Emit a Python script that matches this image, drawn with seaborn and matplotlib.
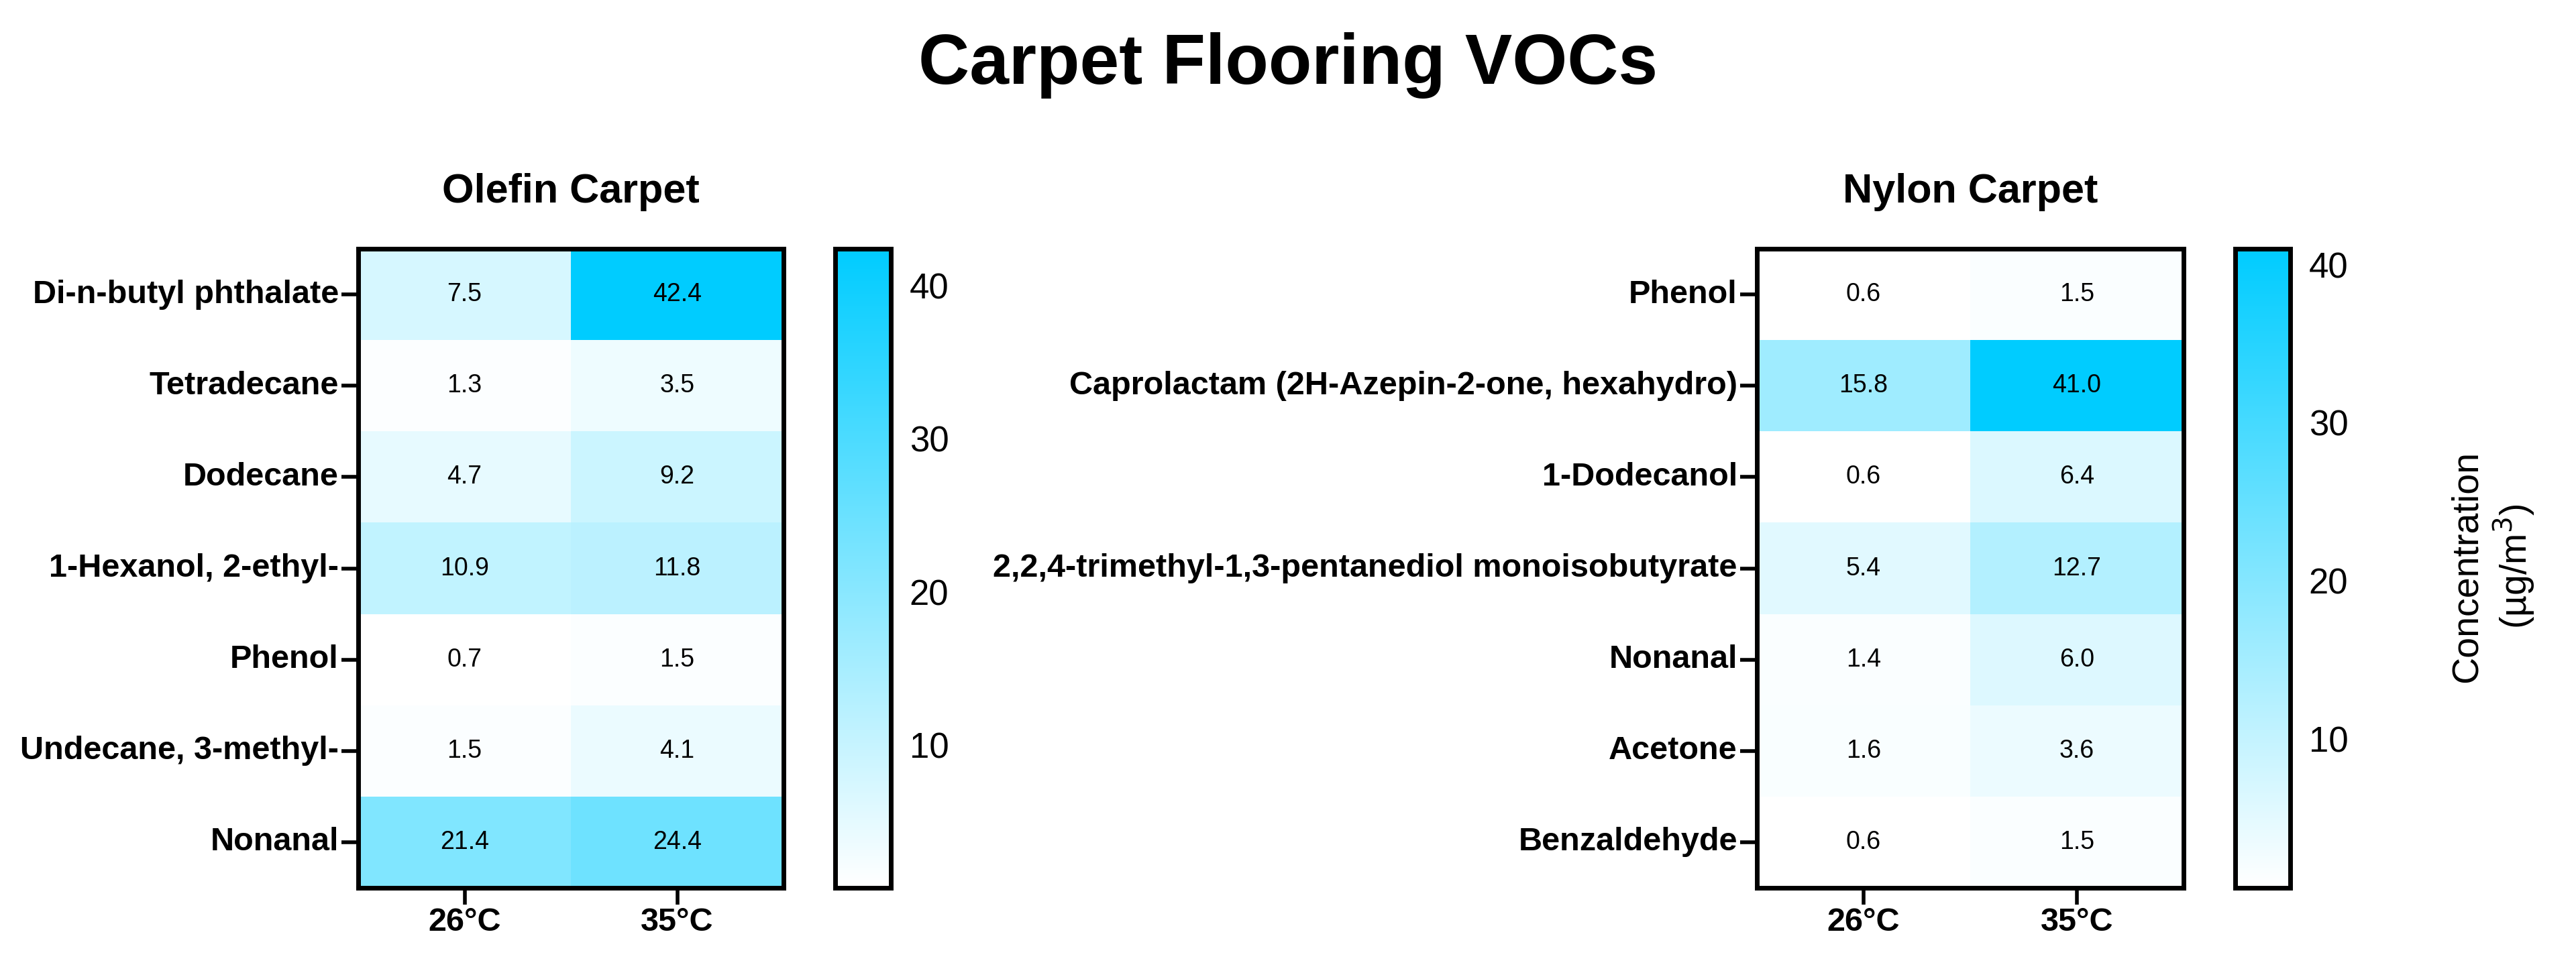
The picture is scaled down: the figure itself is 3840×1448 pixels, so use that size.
import pandas as pd
import matplotlib
matplotlib.use("Agg")
import matplotlib.pyplot as plt
from matplotlib.colors import LinearSegmentedColormap
import seaborn as sns

sns.set_style("white")
plt.rcParams['font.family'] = ['Liberation Sans', 'DejaVu Sans']
plt.rcParams['text.color'] = 'black'
plt.rcParams['xtick.color'] = 'black'
plt.rcParams['ytick.color'] = 'black'
plt.rcParams['axes.labelcolor'] = 'black'

temps = ['26°C', '35°C']

olefin_compounds = ['Di-n-butyl phthalate', 'Tetradecane', 'Dodecane', '1-Hexanol, 2-ethyl-',
                    'Phenol', 'Undecane, 3-methyl-', 'Nonanal']
olefin_26 = [7.5, 1.3, 4.7, 10.9, 0.7, 1.5, 21.4]
olefin_35 = [42.4, 3.5, 9.2, 11.8, 1.5, 4.1, 24.4]

nylon_compounds = ['Phenol', 'Caprolactam (2H-Azepin-2-one, hexahydro)', '1-Dodecanol',
                   '2,2,4-trimethyl-1,3-pentanediol monoisobutyrate', 'Nonanal', 'Acetone',
                   'Benzaldehyde']
nylon_26 = [0.6, 15.8, 0.6, 5.4, 1.4, 1.6, 0.6]
nylon_35 = [1.5, 41.0, 6.4, 12.7, 6.0, 3.6, 1.5]

olefin_df = pd.DataFrame({temps[0]: olefin_26, temps[1]: olefin_35}, index=olefin_compounds)
nylon_df = pd.DataFrame({temps[0]: nylon_26, temps[1]: nylon_35}, index=nylon_compounds)

cmap = LinearSegmentedColormap.from_list('cyan', ['#FFFFFF', '#00CCFF'])

W, H = 3840, 1448
fig = plt.figure(figsize=(W / 100, H / 100), dpi=100)


def px_axes(x0, x1, y0, y1):
    return fig.add_axes([x0 / W, 1 - y1 / H, (x1 - x0) / W, (y1 - y0) / H])


def draw(df, title, hm_x, cb_x):
    ax = px_axes(hm_x[0], hm_x[1], 371, 1324)
    cax = px_axes(cb_x[0], cb_x[1], 371, 1324)
    sns.heatmap(df, ax=ax, cbar_ax=cax, cmap=cmap, annot=True, fmt='.1f',
                annot_kws={'size': 27, 'color': 'black'}, linewidths=0)
    for s in ax.spines.values():
        s.set_visible(True)
        s.set_linewidth(5)
        s.set_color('black')
    ax.tick_params(axis='both', direction='out', length=18, width=4, color='black',
                   left=True, bottom=True, pad=3)
    ax.set_yticklabels(ax.get_yticklabels(), rotation=0, fontsize=35, fontweight='bold')
    ax.set_xticklabels(ax.get_xticklabels(), rotation=0, fontsize=35, fontweight='bold')
    ax.set_xlabel('')
    ax.set_ylabel('')
    ax.set_title(title, fontsize=44, fontweight='bold', pad=50)

    cbar = ax.collections[0].colorbar
    cbar.set_ticks([10, 20, 30, 40])
    cbar.outline.set_visible(True)
    cbar.outline.set_linewidth(5)
    cbar.outline.set_edgecolor('black')
    cbar.ax.tick_params(direction='in', length=12, width=4, left=True, right=True,
                        labelsize=38, pad=20, color='black')
    return ax


draw(olefin_df, 'Olefin Carpet', (534, 1168), (1245, 1328))
draw(nylon_df, 'Nylon Carpet', (2619, 3255), (3332, 3414))

fig.text(3717 / W, 1 - 845 / H, 'Concentration\n(µg/m$^3$)', rotation=90,
         ha='center', va='center', fontsize=40, multialignment='center')

fig.text(0.5, 1 - 125 / H, 'Carpet Flooring VOCs', fontsize=76, fontweight='bold',
         ha='center', va='baseline')

fig.savefig('out.png', dpi=100, facecolor='white')
